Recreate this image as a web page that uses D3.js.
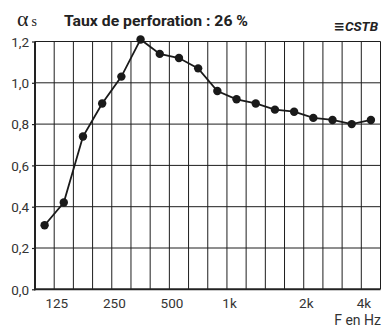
<!DOCTYPE html>
<html><head><meta charset="utf-8">
<script src="https://cdn.jsdelivr.net/npm/d3@7/dist/d3.min.js"></script>
<style>body{margin:0;background:#fff}svg{display:block}</style>
</head><body>
<svg id="c" width="383" height="329"></svg>
<script>
const bands = [100,125,160,200,250,315,400,500,630,800,1000,1250,1600,2000,2500,3150,4000,5000];
const alphaS = [0.31,0.42,0.74,0.90,1.03,1.21,1.14,1.12,1.07,0.96,0.92,0.90,0.87,0.86,0.83,0.82,0.80,0.82];
const tickBands = [125,250,500,1000,2500,5000];
const tickLabels = ["125","250","500","1k","2k","4k"];
const yTicks = [0,0.2,0.4,0.6,0.8,1.0,1.2];
const title = "Taux de perforation : 26 %";

const svg = d3.select("#c");
const L = 35, R = 380.5, T = 41.5, B = 289.3;
const x = d3.scaleBand().domain(bands).range([L, R]).padding(0);
const y = d3.scaleLinear().domain([0, 1.2]).range([B, T]);
const font = "Roboto, 'DejaVu Sans', sans-serif";

// vertical grid
const vg = [...bands.map(b => x(b)), R];
svg.append("g").selectAll("line").data(vg.slice(1)).join("line")
  .attr("x1", d => d).attr("x2", d => d).attr("y1", T).attr("y2", B)
  .attr("stroke", "#1e1e1e").attr("stroke-width", 1);
// horizontal grid
svg.append("g").selectAll("line").data(yTicks.slice(1)).join("line")
  .attr("x1", L).attr("x2", R).attr("y1", d => y(d)).attr("y2", d => y(d))
  .attr("stroke", "#1e1e1e").attr("stroke-width", 1);

// y axis
const ya = svg.append("g").attr("transform", `translate(${L},0)`)
  .call(d3.axisLeft(y).tickValues(yTicks).tickSize(3).tickPadding(3)
    .tickFormat(d => d3.format(".1f")(d).replace(".", ",")));
ya.select(".domain").remove();
ya.selectAll("line").attr("stroke", "#222").attr("stroke-width", 1.2);
ya.selectAll("text").attr("font-family", font).attr("font-size", 13.5).attr("fill", "#333").attr("dy", "0.36em");

// x axis labels
const xa = svg.append("g").attr("transform", `translate(0,${B})`)
  .call(d3.axisBottom(x).tickValues(tickBands).tickSize(0).tickPadding(9)
    .tickFormat((d, i) => tickLabels[i]));
xa.select(".domain").remove();
xa.selectAll("text").attr("font-family", font).attr("font-size", 13.5).attr("fill", "#333").attr("dx", -7);

// axis lines
svg.append("line").attr("x1", L).attr("x2", L).attr("y1", T).attr("y2", B + 1)
  .attr("stroke", "#222").attr("stroke-width", 2);
svg.append("line").attr("x1", L - 1).attr("x2", R).attr("y1", B).attr("y2", B)
  .attr("stroke", "#222").attr("stroke-width", 2);

// data line
const cx = d => x(d) + x.bandwidth() / 2;
const line = d3.line().x((d, i) => cx(bands[i])).y(d => y(d));
svg.append("path").datum(alphaS).attr("d", line)
  .attr("fill", "none").attr("stroke", "#1a1a1a").attr("stroke-width", 1.8);
svg.append("g").selectAll("circle").data(alphaS).join("circle")
  .attr("cx", (d, i) => cx(bands[i])).attr("cy", d => y(d)).attr("r", 4.2)
  .attr("fill", "#1a1a1a");

// titles
const t1 = svg.append("text").attr("x", 17).attr("y", 26).attr("fill", "#222")
  .attr("font-family", "'Liberation Serif', 'DejaVu Serif', serif");
t1.append("tspan").attr("font-size", 22).text("α");
t1.append("tspan").attr("font-size", 14).attr("dx", 3).text("s");
svg.append("text").attr("x", 64).attr("y", 26).attr("font-family", font)
  .attr("font-weight", "bold").attr("font-size", 14.5).attr("fill", "#222")
  .attr("textLength", 184).attr("lengthAdjust", "spacingAndGlyphs").text(title);
svg.append("text").attr("x", 378).attr("y", 31).attr("text-anchor", "end")
  .attr("font-family", font).attr("font-weight", "bold").attr("font-style", "italic")
  .attr("font-size", 13.5).attr("fill", "#222").text("≡CSTB");
svg.append("text").attr("x", 381).attr("y", 325).attr("text-anchor", "end")
  .attr("font-family", font).attr("font-size", 14).attr("fill", "#333").text("F en Hz");
</script>
</body></html>
